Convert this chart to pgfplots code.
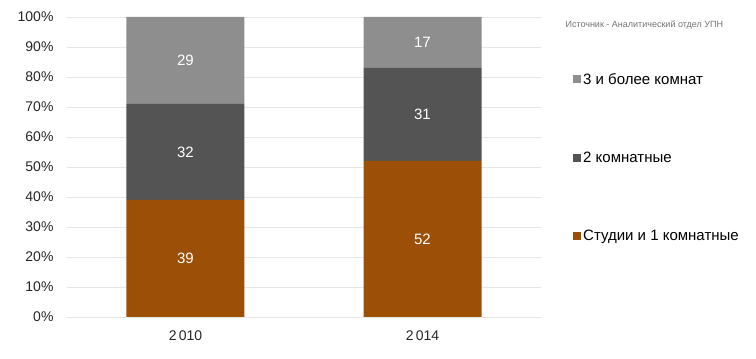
\documentclass[border=0pt]{standalone}
\usepackage{pgfplots}
\pgfplotsset{compat=1.18}
\usepackage{fontspec}
\setmainfont{Liberation Sans}
\definecolor{cOne}{HTML}{9C4F06}
\definecolor{cTwo}{HTML}{545454}
\definecolor{cThree}{HTML}{8E8E8E}
\definecolor{gridc}{HTML}{E6E6E6}
\begin{document}
\begin{tikzpicture}[x=1pt,y=1pt]
\path[use as bounding box] (-67,-42) rectangle (689,317);
\begin{axis}[
  at={(0,0)}, anchor=south west,
  scale only axis, width=474pt, height=300pt,
  ybar stacked, bar width=118pt,
  xmin=-0.5, xmax=1.5, ymin=0, ymax=100,
  xtick={0,1}, xticklabels={2\,010,2\,014},
  ytick={0,10,...,100},
  yticklabel={\pgfmathprintnumber{\tick}\%},
  /pgf/number format/assume math mode=true,
  axis line style={draw=none},
  major tick length=0pt,
  ymajorgrids, grid style={gridc, line width=0.8pt},
  tick label style={font=\fontsize{14}{16}\selectfont, text=black!85},
  yticklabel style={xshift=-10pt},
  xticklabel style={yshift=-10pt},
  legend style={at={(1.0675,0.82)}, anchor=north west, draw=none, fill=none,
    font=\fontsize{15}{17}\selectfont, row sep=62pt, inner sep=0pt},
  legend cell align=left,
  reverse legend,
  legend image code/.code={\fill[#1] (0pt,-4pt) rectangle (8pt,4pt);},
]
\addplot[fill=cOne, draw=none] coordinates {(0,39) (1,52)};
\addlegendentry{Студии и 1 комнатные}
\addplot[fill=cTwo, draw=none] coordinates {(0,32) (1,31)};
\addlegendentry{2 комнатные}
\addplot[fill=cThree, draw=none] coordinates {(0,29) (1,17)};
\addlegendentry{3 и более комнат}
\end{axis}
\begin{axis}[
  at={(0,0)}, anchor=south west,
  scale only axis, width=474pt, height=300pt,
  xmin=-0.5, xmax=1.5, ymin=0, ymax=100,
  hide axis,
]
\addplot[only marks, mark=none,
  nodes near coords, point meta=explicit symbolic,
  every node near coord/.style={anchor=center, text=white, font=\fontsize{15}{17}\selectfont}]
  coordinates {(0,19.5) [39] (0,55) [32] (0,85.5) [29]
               (1,26) [52] (1,67.5) [31] (1,91.5) [17]};
\end{axis}
\node[anchor=west, text=black!55, font=\fontsize{9}{11}\selectfont] at (495,292) {Источник - Аналитический отдел УПН};
\end{tikzpicture}
\end{document}
